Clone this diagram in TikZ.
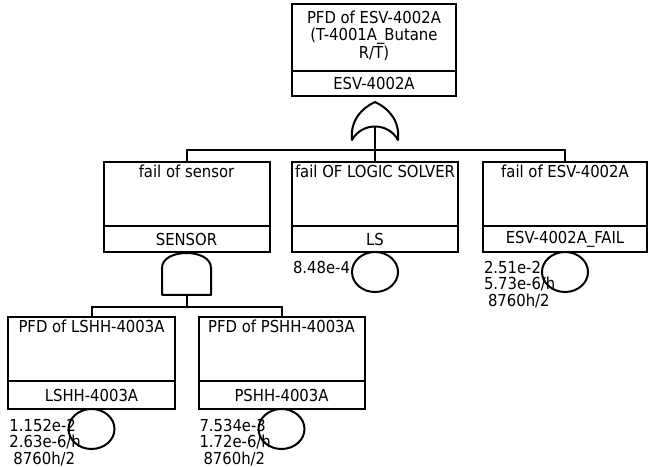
\documentclass[tikz,border=0pt]{standalone}
\usepackage{fontspec}
\setmainfont{DejaVu Sans Condensed}
\usetikzlibrary{positioning, shapes.geometric}

\begin{document}
\begin{tikzpicture}[
		x=1bp, y=-1bp,
		line width=2bp,
		event/.style={rectangle, draw, minimum width=166bp, minimum height=64bp, inner sep=0pt, outer sep=0pt},
		eventid/.style={rectangle, draw, minimum width=166bp, minimum height=26bp, inner sep=0pt, outer sep=0pt, font=\fontsize{16.5bp}{17.5bp}\selectfont},
		desc/.style={anchor=north, inner sep=1.5bp, align=center, font=\fontsize{16.5bp}{17.5bp}\selectfont},
		basic/.style={ellipse, draw, minimum width=46bp, minimum height=40bp, inner sep=0pt, outer sep=0pt},
		prob/.style={inner sep=0pt, align=left, font=\fontsize{16.5bp}{16.5bp}\selectfont},
		gate/.style={draw, line join=round}
		]
		\useasboundingbox (0,0) rectangle (648,467);

		% top event
		\node (esvtop) at (374,37.5) [event, minimum width=164bp, minimum height=67bp, label={[desc, yshift=-4bp]north:{PFD of ESV-4002A\\(T-4001A\_Butane\\R/T)}}] {};
		\node (esvtopid) [eventid, minimum width=164bp, minimum height=25bp, below=0pt of esvtop] {ESV-4002A};

		% OR gate
		\draw[gate] (352,140) .. controls (350,120) and (362,108) .. (375,102) .. controls (388,108) and (400,120) .. (398,140) .. controls (388,122) and (362,122) .. (352,140) -- cycle;
		\coordinate (orout) at (375,126);
		\coordinate (orbus) at (375,150);

		% second row
		\node (sensor) at (186.5,194) [event, label={[desc]north:fail of sensor}] {};
		\node (sensorid) [eventid, below=0pt of sensor] {SENSOR};
		\node (ls) at (375,194) [event, label={[desc]north:fail OF LOGIC SOLVER}] {};
		\node (lsid) [eventid, below=0pt of ls] {LS};
		\node (esv) at (565,194) [event, minimum width=164bp, label={[desc]north:fail of ESV-4002A}] {};
		\node (esvid) [eventid, minimum width=164bp, below=0pt of esv] {ESV-4002A\_FAIL};

		% AND gate
		\draw[gate] (162,295) -- (162,268) .. controls (162,248) and (211,248) .. (211,268) -- (211,295) -- cycle;
		\coordinate (andout) at (186.5,295);
		\coordinate (andbus) at (186.5,307);

		% third row
		\node (lshh) at (91.5,349) [event, label={[desc]north:PFD of LSHH-4003A}] {};
		\node (lshhid) [eventid, minimum height=28bp, below=0pt of lshh] {LSHH-4003A};
		\node (pshh) at (281.5,349) [event, label={[desc]north:PFD of PSHH-4003A}] {};
		\node (pshhid) [eventid, minimum height=28bp, below=0pt of pshh] {PSHH-4003A};

		% basic events
		\node (lsev) [basic, below=0pt of lsid] {};
		\node (esvev) [basic, below=0pt of esvid] {};
		\node (lshhev) [basic, below=0pt of lshhid] {};
		\node (pshhev) [basic, below=0pt of pshhid] {};
		\node (lsp) [prob, below=8bp of lsid.south west, anchor=north west] {8.48e-4};
		\node (esvp) [prob, below=8bp of esvid.south west, anchor=north west] {2.51e-2\\5.73e-6/h\\\hspace*{4bp}8760h/2};
		\node (lshhp) [prob, below=9bp of lshhid.south west, anchor=north west] {1.152e-2\\2.63e-6/h\\\hspace*{4bp}8760h/2};
		\node (pshhp) [prob, below=9bp of pshhid.south west, anchor=north west] {7.534e-3\\1.72e-6/h\\\hspace*{4bp}8760h/2};

		% connectors
		\draw (orout) -- (orbus);
		\draw (sensor.north) |- (orbus) -| (esv.north);
		\draw (orbus) -- (ls.north);
		\draw (andout) -- (andbus);
		\draw (lshh.north) |- (andbus) -| (pshh.north);
	\end{tikzpicture}
\end{document}
